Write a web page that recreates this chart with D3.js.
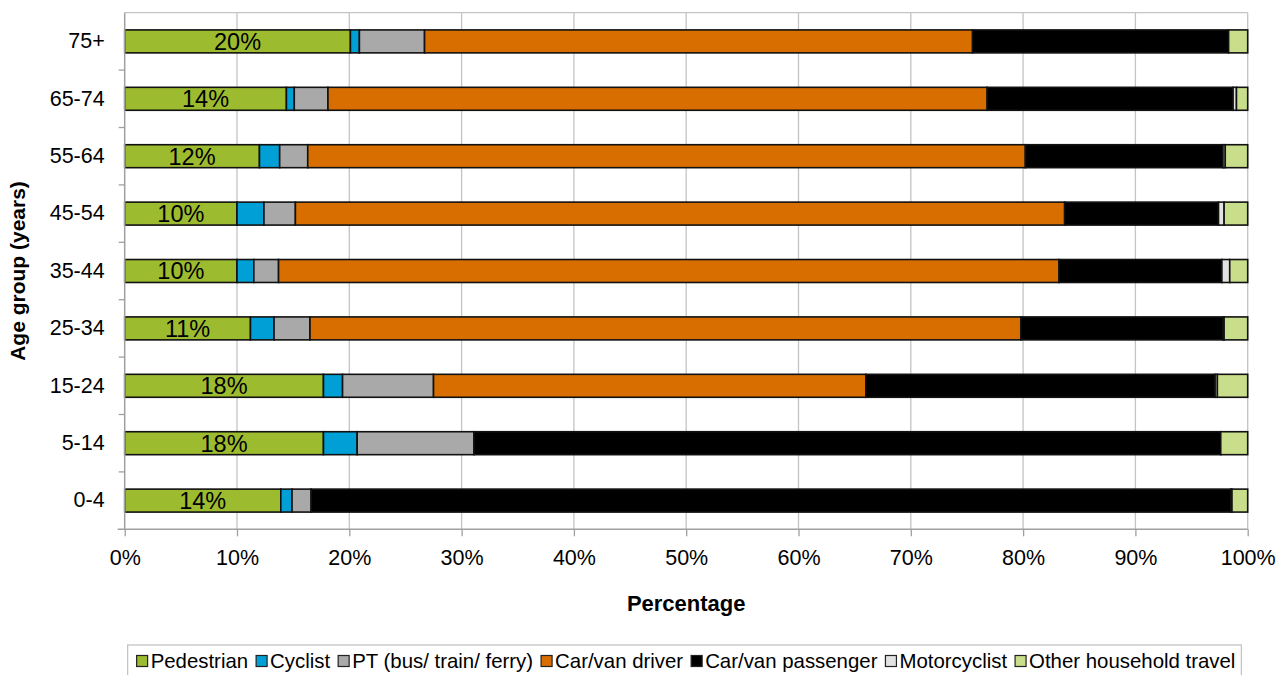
<!DOCTYPE html>
<html>
<head>
<meta charset="utf-8">
<script src="https://cdn.jsdelivr.net/npm/d3@7/dist/d3.min.js"></script>
<style>
  html, body { margin: 0; padding: 0; background: #fff; }
  svg { display: block; font-family: "Liberation Sans", Arial, sans-serif; }
</style>
</head>
<body>
<svg id="chart" width="1278" height="675"></svg>
<script>
// Age groups, top to bottom
const ageGroups = ["75+", "65-74", "55-64", "45-54", "35-44", "25-34", "15-24", "5-14", "0-4"];

// Share of trips by travel mode (percent), in ageGroups order
const pedestrian   = [20.1, 14.4, 12.0, 10.0, 10.0, 11.2, 17.7, 17.7, 13.9];
const cyclist      = [ 0.8,  0.7,  1.8,  2.4,  1.5,  2.1,  1.7,  3.0,  1.0];
const publicTrans  = [ 5.8,  3.0,  2.5,  2.8,  2.2,  3.2,  8.1, 10.4,  1.7];
const carDriver    = [48.8, 58.7, 63.9, 68.5, 69.5, 63.3, 38.5,  0.0,  0.0];
const carPassenger = [22.8, 21.9, 17.6, 13.7, 14.5, 18.0, 31.1, 66.5, 81.9];
const motorcyclist = [ 0.0,  0.3,  0.2,  0.5,  0.7,  0.1,  0.2,  0.0,  0.1];
const otherTravel  = [ 1.7,  1.0,  2.0,  2.1,  1.6,  2.1,  2.7,  2.4,  1.4];

const seriesNames = ["Pedestrian", "Cyclist", "PT (bus/ train/ ferry)", "Car/van driver",
                     "Car/van passenger", "Motorcyclist", "Other household travel"];
const seriesValues = [pedestrian, cyclist, publicTrans, carDriver, carPassenger, motorcyclist, otherTravel];
const seriesColors = ["#9dbb2f", "#00a0d6", "#a9a9a9", "#d86e00", "#000000", "#e2e2e2", "#c9de8a"];

const xTicks = [0, 10, 20, 30, 40, 50, 60, 70, 80, 90, 100];

const FONT = "Liberation Sans, Arial, sans-serif";
const svg = d3.select("#chart");
const plot = { left: 124.7, top: 12.7, right: 1247.7, bottom: 529.3 };

const x = d3.scaleLinear().domain([0, 100]).range([plot.left, plot.right]);
const y = d3.scaleBand().domain(ageGroups).range([plot.top, plot.bottom])
  .paddingInner(0.6).paddingOuter(0.3);

// Build stacked rows
const rows = ageGroups.map((g, i) => {
  const row = { group: g };
  seriesNames.forEach((s, k) => { row[s] = seriesValues[k][i]; });
  return row;
});
const stacked = d3.stack().keys(seriesNames)(rows);

// Gridlines
svg.append("g")
  .selectAll("line")
  .data(xTicks.filter(t => t > 0))
  .join("line")
  .attr("x1", d => x(d)).attr("x2", d => x(d))
  .attr("y1", plot.top).attr("y2", plot.bottom)
  .attr("stroke", "#c4c4c4").attr("stroke-width", 1.3);

// Top border of plot area
svg.append("line")
  .attr("x1", plot.left).attr("x2", plot.right)
  .attr("y1", plot.top).attr("y2", plot.top)
  .attr("stroke", "#c4c4c4").attr("stroke-width", 1.3);

// Bars
const layers = svg.append("g").selectAll("g")
  .data(stacked)
  .join("g")
  .attr("fill", (d, i) => seriesColors[i]);

layers.selectAll("rect")
  .data(d => d.filter(p => p[1] - p[0] > 0).map(p => ({ p, group: p.data.group })))
  .join("rect")
  .attr("x", d => x(d.p[0]))
  .attr("width", d => x(d.p[1]) - x(d.p[0]))
  .attr("y", d => y(d.group))
  .attr("height", y.bandwidth())
  .attr("stroke", "#111")
  .attr("stroke-width", 1.6);

// Pedestrian value labels
const fmt = v => d3.format(".0f")(v) + "%";
svg.append("g")
  .selectAll("text")
  .data(ageGroups)
  .join("text")
  .attr("x", (g, i) => (x(0) + x(pedestrian[i])) / 2)
  .attr("y", g => y(g) + y.bandwidth() / 2)
  .attr("dy", "0.36em")
  .attr("text-anchor", "middle")
  .attr("font-size", 23.5)
  .attr("fill", "#000")
  .text((g, i) => fmt(pedestrian[i]));

// X axis
const xAxis = svg.append("g")
  .attr("transform", `translate(0,${plot.bottom})`)
  .call(d3.axisBottom(x).tickValues(xTicks).tickSize(7).tickPadding(13)
    .tickFormat(d => d + "%"));
xAxis.select(".domain").attr("stroke", "#a0a0a0").attr("stroke-width", 1.5)
  .attr("d", `M${plot.left - 7},0H${plot.right}`);
xAxis.selectAll(".tick line").attr("stroke", "#a0a0a0").attr("stroke-width", 1.3);
xAxis.selectAll(".tick text").attr("font-size", 21.5).attr("fill", "#000")
  .attr("font-family", FONT);

// Y axis: labels at band centres, ticks at band boundaries
const yAxis = svg.append("g")
  .attr("transform", `translate(${plot.left},0)`)
  .call(d3.axisLeft(y).tickSize(0).tickPadding(20));
yAxis.select(".domain").attr("stroke", "#a0a0a0").attr("stroke-width", 1.5)
  .attr("d", `M0,${plot.top}V${plot.bottom}`);
yAxis.selectAll(".tick text").attr("font-size", 21.5).attr("fill", "#000")
  .attr("font-family", FONT);
const step = y.step();
const boundaries = ageGroups.map(g => y(g) - y.paddingOuter() * step).slice(1);
yAxis.append("g").selectAll("line")
  .data(boundaries)
  .join("line")
  .attr("x1", -6).attr("x2", 0)
  .attr("y1", d => d).attr("y2", d => d)
  .attr("stroke", "#a0a0a0").attr("stroke-width", 1.3);

// Axis titles
svg.append("text")
  .attr("x", (plot.left + plot.right) / 2).attr("y", 611)
  .attr("text-anchor", "middle")
  .attr("font-size", 22).attr("font-weight", "bold")
  .text("Percentage");

svg.append("text")
  .attr("transform", `translate(25,${(plot.top + plot.bottom) / 2}) rotate(-90)`)
  .attr("text-anchor", "middle")
  .attr("font-size", 21).attr("font-weight", "bold")
  .text("Age group (years)");

// Legend
const legend = svg.append("g");
const legendY = 661;
let cursor = 0;
const items = legend.selectAll("g")
  .data(seriesNames)
  .join("g");
items.append("rect")
  .attr("width", 11).attr("height", 11)
  .attr("y", -5.5)
  .attr("fill", (d, i) => seriesColors[i])
  .attr("stroke", "#222").attr("stroke-width", 1.2);
items.append("text")
  .attr("x", 14).attr("dy", "0.36em")
  .attr("font-size", 20.4)
  .text(d => d);
items.each(function() {
  const g = d3.select(this);
  const w = g.select("text").node().getComputedTextLength() + 14;
  g.attr("transform", `translate(${cursor},0)`);
  cursor += w + 8;
});
const totalW = cursor - 8;
const legendX = 686 - totalW / 2;
legend.attr("transform", `translate(${legendX},${legendY})`);
svg.insert("rect", "g")
  .attr("x", legendX - 9).attr("y", legendY - 16)
  .attr("width", totalW + 15).attr("height", 40)
  .attr("fill", "#fff").attr("stroke", "#c4c4c4").attr("stroke-width", 1.3);
</script>
</body>
</html>
